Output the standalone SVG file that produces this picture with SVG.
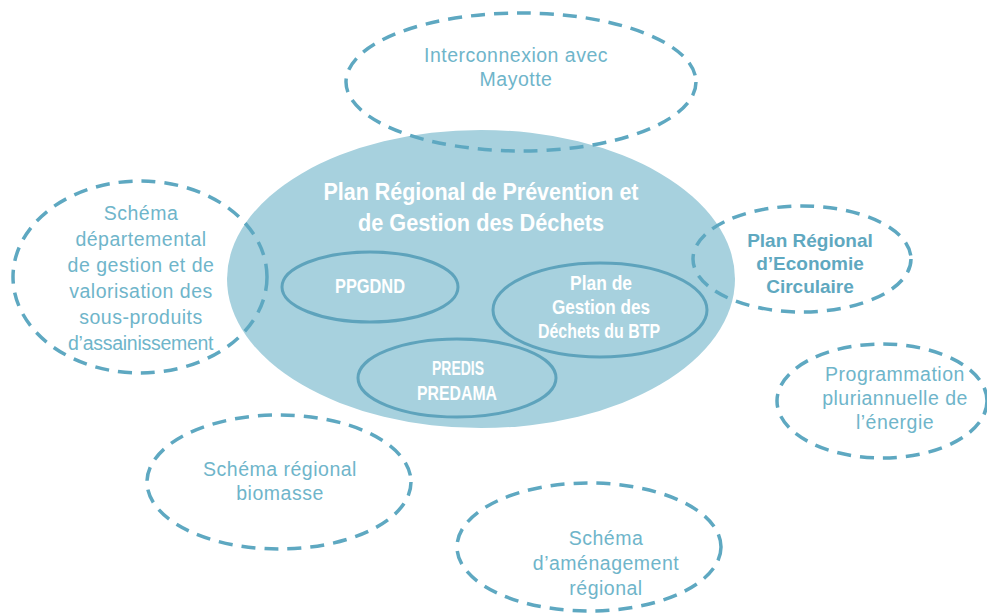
<svg xmlns="http://www.w3.org/2000/svg" width="987" height="613" viewBox="0 0 987 613">
<style>
.bg{fill:#ffffff}
.main{fill:#a7d1de;stroke:none}
.inner{fill:#a7d1de;stroke:#5ea3bc;stroke-width:3}
.dash{fill:none;stroke:#5ea8c1;stroke-width:3.5;stroke-dasharray:14 9}
.out{font-family:"Liberation Sans",Arial,sans-serif;font-size:19.5px;letter-spacing:0.5px;fill:#6fb5ca;text-anchor:middle}
.outb{font-family:"Liberation Sans",Arial,sans-serif;font-size:19px;font-weight:bold;fill:#5fa8c0;text-anchor:middle}
.title{font-family:"Liberation Sans",Arial,sans-serif;font-size:23px;font-weight:bold;fill:#ffffff;text-anchor:middle}
.in{font-family:"Liberation Sans",Arial,sans-serif;font-size:20px;font-weight:bold;fill:#ffffff;text-anchor:middle}
</style>
<rect class="bg" x="0" y="0" width="987" height="613"/>
<g id="prpgd">
<ellipse class="main" cx="481" cy="279" rx="254" ry="149"/>
<text class="title" x="481" y="200" textLength="315" lengthAdjust="spacingAndGlyphs">Plan Régional de Prévention et</text>
<text class="title" x="481" y="231" textLength="246" lengthAdjust="spacingAndGlyphs">de Gestion des Déchets</text>
</g>
<g id="ppgdnd">
<ellipse class="inner" cx="370" cy="287" rx="88" ry="35"/>
<text class="in" x="370" y="293" textLength="70" lengthAdjust="spacingAndGlyphs">PPGDND</text>
</g>
<g id="btp">
<ellipse class="inner" cx="600" cy="310" rx="107" ry="47"/>
<text class="in" x="601" y="290" textLength="62" lengthAdjust="spacingAndGlyphs">Plan de</text>
<text class="in" x="601" y="314" textLength="98" lengthAdjust="spacingAndGlyphs">Gestion des</text>
<text class="in" x="599" y="338" textLength="122" lengthAdjust="spacingAndGlyphs">Déchets du BTP</text>
</g>
<g id="predis">
<ellipse class="inner" cx="457" cy="378" rx="99" ry="39"/>
<text class="in" x="458" y="375" textLength="52" lengthAdjust="spacingAndGlyphs">PREDIS</text>
<text class="in" x="457" y="400" textLength="80" lengthAdjust="spacingAndGlyphs">PREDAMA</text>
</g>
<g id="mayotte">
<ellipse class="dash" cx="521" cy="82" rx="175" ry="69"/>
<text class="out" x="516" y="62">Interconnexion avec</text>
<text class="out" x="516" y="86">Mayotte</text>
</g>
<g id="assainissement">
<ellipse class="dash" cx="140" cy="277" rx="127" ry="96"/>
<text class="out" x="141" y="220">Schéma</text>
<text class="out" x="141" y="246">départemental</text>
<text class="out" x="141" y="272">de gestion et de</text>
<text class="out" x="141" y="298">valorisation des</text>
<text class="out" x="141" y="324">sous-produits</text>
<text class="out" x="141" y="350" textLength="146">d’assainissement</text>
</g>
<g id="economie-circulaire">
<ellipse class="dash" cx="802" cy="259" rx="109" ry="53"/>
<text class="outb" x="810" y="247">Plan Régional</text>
<text class="outb" x="810" y="270">d’Economie</text>
<text class="outb" x="810" y="293">Circulaire</text>
</g>
<g id="energie">
<ellipse class="dash" cx="882" cy="401" rx="105" ry="57"/>
<text class="out" x="895" y="381">Programmation</text>
<text class="out" x="895" y="405">pluriannuelle de</text>
<text class="out" x="895" y="429">l’énergie</text>
</g>
<g id="biomasse">
<ellipse class="dash" cx="279" cy="482" rx="132" ry="67"/>
<text class="out" x="280" y="476">Schéma régional</text>
<text class="out" x="280" y="500">biomasse</text>
</g>
<g id="amenagement">
<ellipse class="dash" cx="589" cy="547" rx="132" ry="64"/>
<text class="out" x="606" y="545">Schéma</text>
<text class="out" x="606" y="570">d’aménagement</text>
<text class="out" x="606" y="595">régional</text>
</g>
<g id="connectors"></g>
</svg>
